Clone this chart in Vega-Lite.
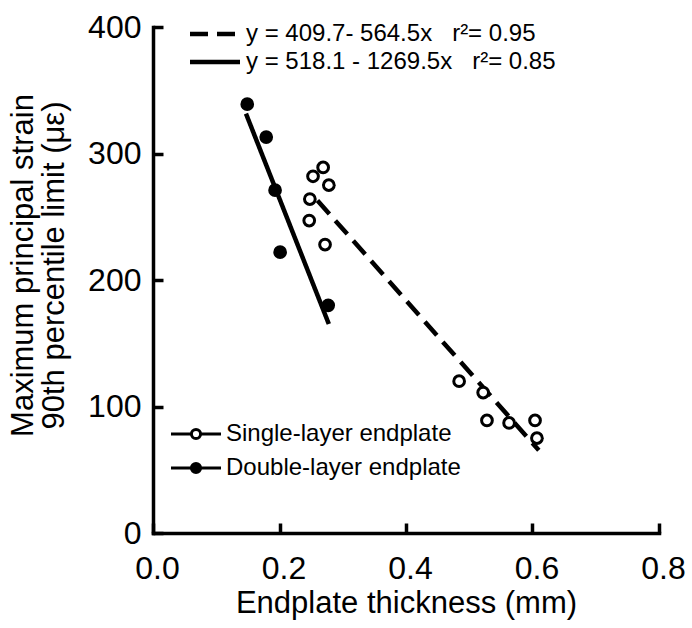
{
  "$schema": "https://vega.github.io/schema/vega-lite/v6.json",
  "width": 506,
  "height": 506,
  "autosize": {"type": "none"},
  "padding": {"left": 153, "top": 27, "right": 33, "bottom": 95},
  "config": {
    "view": {"stroke": null},
    "font": "Liberation Sans",
    "axis": {"grid": false, "labelColor": "black", "titleColor": "black", "domainColor": "black", "tickColor": "black", "labelFont": "Liberation Sans", "titleFont": "Liberation Sans", "titleFontWeight": "normal"},
    "legend": {"labelFont": "Liberation Sans", "labelFontSize": 24, "labelColor": "black", "labelLimit": 600, "padding": 0}
  },
  "datasets": {
    "points": [
      {"series": "Double-layer endplate", "x": 0.149, "y": 339},
      {"series": "Double-layer endplate", "x": 0.179, "y": 313},
      {"series": "Double-layer endplate", "x": 0.193, "y": 271},
      {"series": "Double-layer endplate", "x": 0.201, "y": 222},
      {"series": "Double-layer endplate", "x": 0.277, "y": 180},
      {"series": "Single-layer endplate", "x": 0.269, "y": 289},
      {"series": "Single-layer endplate", "x": 0.253, "y": 282},
      {"series": "Single-layer endplate", "x": 0.278, "y": 275},
      {"series": "Single-layer endplate", "x": 0.248, "y": 264},
      {"series": "Single-layer endplate", "x": 0.247, "y": 247},
      {"series": "Single-layer endplate", "x": 0.272, "y": 228},
      {"series": "Single-layer endplate", "x": 0.484, "y": 120},
      {"series": "Single-layer endplate", "x": 0.522, "y": 111},
      {"series": "Single-layer endplate", "x": 0.528, "y": 89},
      {"series": "Single-layer endplate", "x": 0.563, "y": 87},
      {"series": "Single-layer endplate", "x": 0.604, "y": 89},
      {"series": "Single-layer endplate", "x": 0.607, "y": 75}
    ],
    "fits": [
      {"fit": "y = 409.7- 564.5x \u00a0\u00a0r²= 0.95", "x": 0.26, "y": 262.9},
      {"fit": "y = 409.7- 564.5x \u00a0\u00a0r²= 0.95", "x": 0.61, "y": 65.4},
      {"fit": "y = 518.1 - 1269.5x \u00a0\u00a0r²= 0.85", "x": 0.147, "y": 331.5},
      {"fit": "y = 518.1 - 1269.5x \u00a0\u00a0r²= 0.85", "x": 0.278, "y": 165.2}
    ]
  },
  "encoding": {
    "x": {
      "field": "x", "type": "quantitative",
      "scale": {"domain": [0, 0.8], "nice": false, "zero": false},
      "axis": {
        "values": [0, 0.2, 0.4, 0.6, 0.8], "format": ".1f",
        "tickSize": -10, "tickWidth": 3.5, "domainWidth": 3.5, "domainCap": "square",
        "labelFontSize": 32, "labelPadding": 30, "labelFlush": false, "labelOffset": 4,
        "title": "Endplate thickness (mm)", "titleFontSize": 31,
        "titleY": 79, "titleBaseline": "alphabetic"
      }
    },
    "y": {
      "field": "y", "type": "quantitative",
      "scale": {"domain": [0, 400], "nice": false},
      "axis": {
        "values": [0, 100, 200, 300, 400],
        "tickSize": -10, "tickWidth": 3.5, "domainWidth": 3.5, "domainCap": "square",
        "labelFontSize": 32, "labelPadding": 22, "labelFlush": false,
        "title": ["Maximum principal strain", "90th percentile limit (με)"],
        "titleFontSize": 31, "titleLineHeight": 31,
        "titleX": -121, "titleY": 238, "titleAngle": 270,
        "titleBaseline": "alphabetic", "titleAlign": "center"
      }
    }
  },
  "layer": [
    {
      "data": {"name": "fits"},
      "mark": {"type": "line", "color": "black", "strokeWidth": 4.5, "strokeCap": "butt"},
      "encoding": {
        "strokeDash": {
          "field": "fit", "type": "nominal",
          "scale": {"domain": ["y = 409.7- 564.5x \u00a0\u00a0r²= 0.95", "y = 518.1 - 1269.5x \u00a0\u00a0r²= 0.85"], "range": [[18, 9], [1, 0]]},
          "legend": {
            "title": null, "orient": "none", "legendX": 50, "legendY": -5,
            "symbolType": "M-5,0L5,0", "symbolSize": 100, "symbolStrokeWidth": 4.5,
            "symbolStrokeColor": "black", "labelOffset": 19, "rowPadding": 4
          }
        }
      }
    },
    {
      "data": {"name": "points"},
      "mark": {"type": "point", "shape": "circle", "filled": true, "stroke": "black", "strokeWidth": 3, "size": 115, "opacity": 1},
      "encoding": {
        "fill": {
          "field": "series", "type": "nominal",
          "scale": {"domain": ["Single-layer endplate", "Double-layer endplate"], "range": ["white", "black"]},
          "legend": {
            "title": null, "orient": "none", "legendX": 31, "legendY": 395,
            "symbolType": "M-5,0L-0.92,0M0.92,0L5,0M0.92,0A0.92,0.92,0,1,1,-0.92,0A0.92,0.92,0,1,1,0.92,0Z",
            "symbolSize": 100, "symbolStrokeColor": "black", "symbolStrokeWidth": 3,
            "symbolOpacity": 1, "labelOffset": 18, "rowPadding": 10
          }
        }
      }
    }
  ]
}
